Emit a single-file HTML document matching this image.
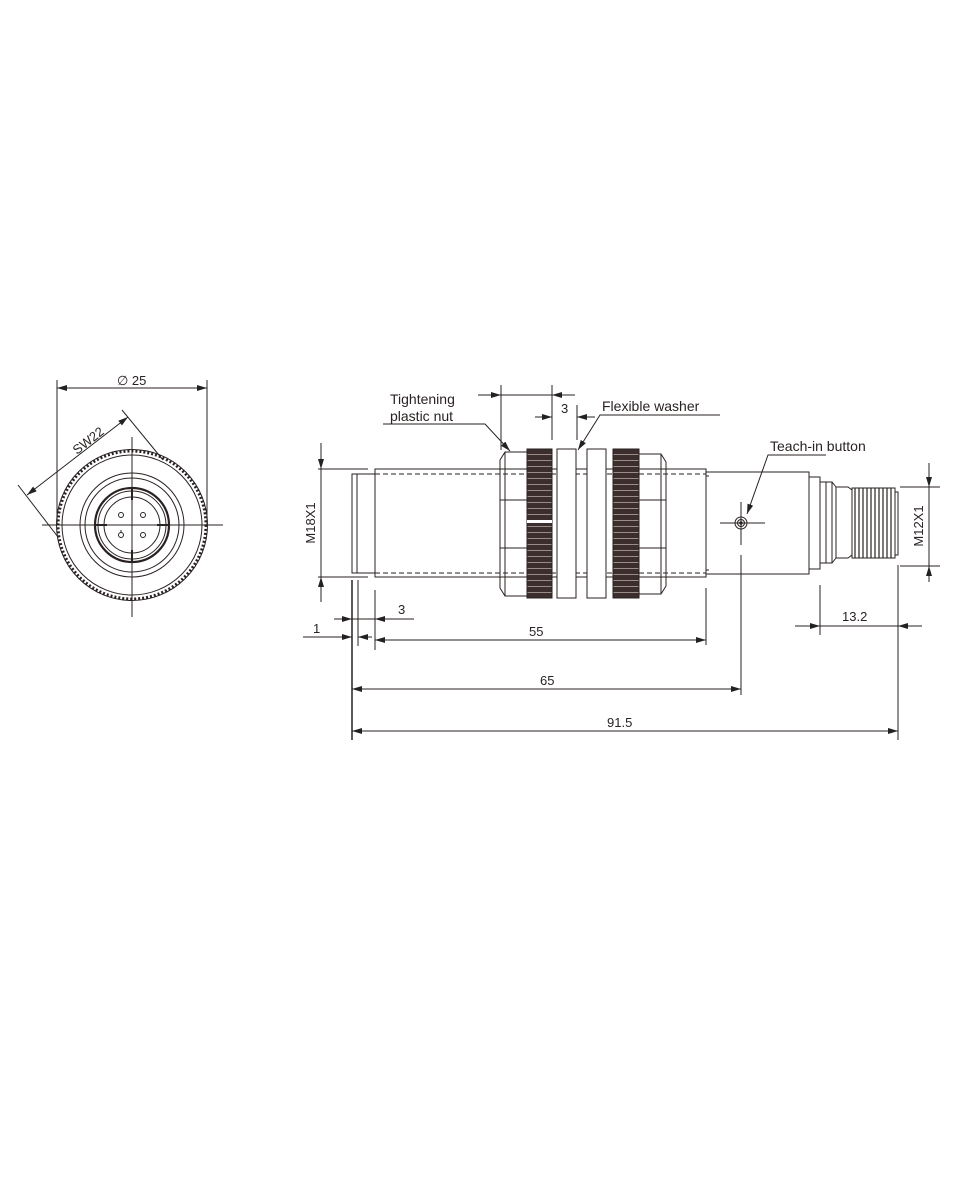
<!DOCTYPE html>
<html><head><meta charset="utf-8"><style>
html,body{margin:0;padding:0;background:#fff;}
svg{display:block;}
text{font-family:"Liberation Sans",sans-serif;fill:#2a2222;}
</style></head><body>
<svg width="960" height="1200" viewBox="0 0 960 1200" xmlns="http://www.w3.org/2000/svg">
<defs>
<marker id="a" viewBox="0 0 10 6" refX="10" refY="3" markerWidth="10" markerHeight="6" orient="auto-start-reverse" markerUnits="userSpaceOnUse"><path d="M0,0 L10,3 L0,6z" fill="#222"/></marker>
<pattern id="kn" width="4" height="6" patternUnits="userSpaceOnUse"><rect width="4" height="6" fill="#3b2e2c"/><rect y="4" width="4" height="1" fill="#9a8c88"/></pattern>
</defs>
<g stroke="#2a2222" fill="none" stroke-width="1">
<!-- LEFT VIEW -->
<line x1="57" y1="380" x2="57" y2="525"/>
<line x1="207" y1="380" x2="207" y2="525"/>
<line x1="57" y1="388" x2="207" y2="388" marker-start="url(#a)" marker-end="url(#a)"/>
<line x1="27" y1="495" x2="128" y2="417" marker-start="url(#a)" marker-end="url(#a)"/>
<line x1="122" y1="410" x2="163" y2="460"/>
<line x1="18" y1="485" x2="58" y2="537"/>
<circle cx="132" cy="525" r="74" stroke-width="3" stroke-dasharray="2 2"/>
<circle cx="132" cy="525" r="75.5"/>
<circle cx="132" cy="525" r="70"/>
<circle cx="132" cy="525" r="52"/>
<circle cx="132" cy="525" r="47"/>
<circle cx="132" cy="525" r="37" stroke-width="2.2"/>
<circle cx="132" cy="525" r="34"/>
<circle cx="132" cy="525" r="28"/>
<circle cx="121" cy="515" r="2.5"/><circle cx="143" cy="515" r="2.5"/>
<circle cx="121" cy="535" r="2.5"/><circle cx="143" cy="535" r="2.5"/>
<line x1="121" y1="530" x2="121" y2="533"/>
<line x1="42" y1="525" x2="223" y2="525"/>
<line x1="132" y1="437" x2="132" y2="617"/>
<g stroke-width="2"><line x1="132" y1="488" x2="132" y2="500"/><line x1="132" y1="550" x2="132" y2="562"/><line x1="95" y1="525" x2="107" y2="525"/><line x1="157" y1="525" x2="169" y2="525"/></g>

<!-- RIGHT VIEW body -->
<rect x="352" y="474" width="23" height="99"/>
<line x1="357" y1="474" x2="357" y2="573"/>
<rect x="375" y="469" width="331" height="108"/>
<line x1="375" y1="474" x2="706" y2="474" stroke-dasharray="5 3"/>
<line x1="375" y1="573" x2="706" y2="573" stroke-dasharray="5 3"/>
<rect x="706" y="472" width="103" height="102"/>
<line x1="706" y1="476" x2="709" y2="476" /><line x1="706" y1="570" x2="709" y2="570"/>
<rect x="809" y="477" width="11" height="92"/>
<path d="M820 482 H832 V563 H820 M832 482 L836 487 V558 L832 563 M836 487 H848 L852 490 V555 L848 558 H836"/>
<line x1="826" y1="482" x2="826" y2="563"/>
<rect x="852" y="488" width="43" height="70"/>
<g stroke-width="1.2"><path d="M855 488V558M859 488V558M863 488V558M867 488V558M871 488V558M875 488V558M879 488V558M883 488V558M887 488V558M891 488V558"/></g>
<rect x="895" y="492" width="3" height="63"/>
<!-- nut -->
<path d="M505 452 H527 V596 H505 L500 588 V460 Z"/>
<path d="M500 500 H527 M500 548 H527 M505 452 V596"/>
<rect x="527" y="449" width="25" height="149" fill="url(#kn)"/>
<rect x="527" y="520" width="25" height="3" fill="#fff" stroke="none"/>
<rect x="557" y="449" width="19" height="149" fill="#fff"/>
<rect x="587" y="449" width="19" height="149" fill="#fff"/>
<rect x="613" y="449" width="26" height="149" fill="url(#kn)"/>
<path d="M639 454 H661 L666 462 V586 L661 594 H639 Z"/>
<path d="M639 500 H666 M639 548 H666 M661 454 V594"/>
<!-- teach button -->
<circle cx="741" cy="523" r="6"/><circle cx="741" cy="523" r="3.5"/><circle cx="741" cy="523" r="1.2" fill="#222"/>
<line x1="720" y1="523" x2="765" y2="523"/><line x1="741" y1="502" x2="741" y2="545"/>
<!-- dims -->
<line x1="318" y1="469" x2="368" y2="469"/><line x1="318" y1="577" x2="368" y2="577"/>
<line x1="321" y1="443" x2="321" y2="469" marker-end="url(#a)"/><line x1="321" y1="577" x2="321" y2="602" marker-start="url(#a)"/>
<line x1="321" y1="469" x2="321" y2="577"/>
<line x1="501" y1="385" x2="501" y2="450"/><line x1="552" y1="385" x2="552" y2="440"/>
<line x1="478" y1="395" x2="501" y2="395" marker-end="url(#a)"/><line x1="552" y1="395" x2="575" y2="395" marker-start="url(#a)"/><line x1="501" y1="395" x2="552" y2="395"/>
<line x1="577" y1="405" x2="577" y2="440"/><line x1="552" y1="405" x2="552" y2="440"/>
<line x1="535" y1="417" x2="552" y2="417" marker-end="url(#a)"/><line x1="577" y1="417" x2="595" y2="417" marker-start="url(#a)"/>
<path d="M383 424 H485 L510 451" marker-end="url(#a)"/>
<path d="M720 415 H600 L578 450" marker-end="url(#a)"/>
<path d="M826 455 H768 L747 514" marker-end="url(#a)"/>
<line x1="900" y1="487" x2="940" y2="487"/><line x1="900" y1="566" x2="940" y2="566"/>
<line x1="929" y1="463" x2="929" y2="487" marker-end="url(#a)"/><line x1="929" y1="566" x2="929" y2="582" marker-start="url(#a)"/><line x1="929" y1="487" x2="929" y2="566"/>
<line x1="820" y1="585" x2="820" y2="635"/><line x1="898" y1="565" x2="898" y2="740"/>
<line x1="795" y1="626" x2="820" y2="626" marker-end="url(#a)"/><line x1="898" y1="626" x2="922" y2="626" marker-start="url(#a)"/><line x1="820" y1="626" x2="898" y2="626"/>
<line x1="352" y1="580" x2="352" y2="740" stroke-width="1.5"/><line x1="358" y1="580" x2="358" y2="646"/><line x1="375" y1="590" x2="375" y2="650"/>
<line x1="706" y1="588" x2="706" y2="645"/><line x1="741" y1="555" x2="741" y2="695"/>
<line x1="334" y1="619" x2="352" y2="619" marker-end="url(#a)"/><line x1="375" y1="619" x2="414" y2="619" marker-start="url(#a)"/><line x1="352" y1="619" x2="375" y2="619"/>
<line x1="303" y1="637" x2="352" y2="637" marker-end="url(#a)"/><line x1="358" y1="637" x2="372" y2="637" marker-start="url(#a)"/>
<line x1="375" y1="640" x2="706" y2="640" marker-start="url(#a)" marker-end="url(#a)"/>
<line x1="352" y1="689" x2="741" y2="689" marker-start="url(#a)" marker-end="url(#a)"/>
<line x1="352" y1="731" x2="898" y2="731" marker-start="url(#a)" marker-end="url(#a)"/>
</g>
<g font-size="13">
<text x="117" y="385">∅ 25</text>
<text x="77" y="455" transform="rotate(-38 77 455)">SW22</text>
<text x="390" y="404" font-size="14">Tightening</text>
<text x="390" y="421" font-size="14">plastic nut</text>
<text x="561" y="413">3</text>
<text x="602" y="411" font-size="14">Flexible washer</text>
<text x="770" y="451" font-size="14">Teach-in button</text>
<text x="315" y="523" text-anchor="middle" transform="rotate(-90 315 523)">M18X1</text>
<text x="923" y="526" text-anchor="middle" transform="rotate(-90 923 526)">M12X1</text>
<text x="398" y="614">3</text>
<text x="313" y="633">1</text>
<text x="529" y="636">55</text>
<text x="540" y="685">65</text>
<text x="607" y="727">91.5</text>
<text x="842" y="621">13.2</text>
</g>
</svg>
</body></html>
